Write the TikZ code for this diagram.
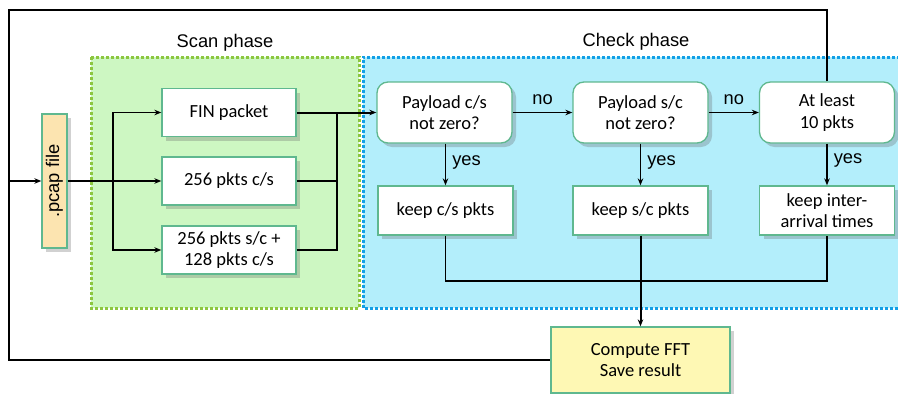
\documentclass[tikz,border=0pt]{standalone}
\usepackage{fontspec}
\setmainfont{Carlito}
\newfontfamily\arial{Liberation Sans}
\usetikzlibrary{arrows.meta,shadows}
\definecolor{scanfill}{HTML}{CDF7C2}
\definecolor{scanline}{HTML}{8CC63F}
\definecolor{checkfill}{HTML}{B3EEFB}
\definecolor{checkline}{HTML}{119FE6}
\definecolor{boxline}{HTML}{5FB88F}
\definecolor{pcapfill}{HTML}{FCE4B0}
\definecolor{fftfill}{HTML}{FEF8B4}
\tikzset{
  bx/.style={draw=boxline, line width=1.3pt, fill=white, align=center,
    font=\fontsize{18.5}{21.5}\selectfont, inner sep=0pt,
    drop shadow={shadow xshift=4pt, shadow yshift=-4pt, opacity=0.3, fill=black!60}},
  sqbox/.style={bx, minimum width=134pt, minimum height=48pt},
  rdbox/.style={bx, rounded corners=11pt, minimum width=135pt, minimum height=61pt},
  kbox/.style={bx, minimum width=135pt, minimum height=49pt},
  lbl/.style={font=\arial\fontsize{18.3}{21}\selectfont, inner sep=0pt},
  conn/.style={line width=1.6pt},
  arr/.style={conn, -{Stealth[length=7pt,width=5.5pt]}},
}
\begin{document}
\begin{tikzpicture}[x=1pt,y=-1pt]
\useasboundingbox (0,0) rectangle (898,394);
% phase areas
\fill[scanfill] (91,57) rectangle (359,308);
\draw[scanline, line width=3pt, dash pattern=on 3pt off 2pt] (91,57) rectangle (359,308);
\fill[checkfill] (363,57) rectangle (898,308);
\draw[checkline, line width=3pt, dash pattern=on 3pt off 2pt] (900,57) -- (363,57) -- (363,308) -- (900,308);
\node[lbl] (scanlbl) at (225,43) {Scan phase};
\node[lbl] (checklbl) at (636,42) {Check phase};
% nodes
\node[bx, fill=pcapfill, minimum width=25pt, minimum height=134pt] (pcap) at (54.5,181) {};
\node[lbl, rotate=90] (pcaptxt) at (pcap.center) {.pcap file};
\node[sqbox] (fin) at (229,112.5) {FIN packet};
\node[sqbox] (cs) at (229,181) {256 pkts c/s};
\node[sqbox] (sc) at (229,250) {256 pkts s/c +\\128 pkts c/s};
\node[rdbox] (p1) at (444.5,112.5) {Payload c/s\\not zero?};
\node[rdbox] (p2) at (640.5,112.5) {Payload s/c\\not zero?};
\node[rdbox] (p3) at (827,112.5) {At least\\10 pkts};
\node[kbox] (k1) at (445.5,210.5) {keep c/s pkts};
\node[kbox] (k2) at (640.5,210.5) {keep s/c pkts};
\node[kbox] (k3) at (827,210.5) {keep inter-\\arrival times};
\node[bx, fill=fftfill, minimum width=179pt, minimum height=66pt] (fft) at (640.5,360) {Compute FFT\\Save result};
% coordinates
\coordinate (tl) at (9,10);
\coordinate (ml) at (9,181);
\coordinate (bl) at (9,360);
\coordinate (js) at (113,181);
\coordinate (jr) at (336.5,112.5);
\coordinate (jb) at (640.5,281);
% outer loop
\draw[conn] (p3.north) |- (tl) -- (bl) -- (fft.west);
\draw[arr] (ml) -- (pcap.west);
% scan branching
\draw[conn, line width=2pt] (pcap.east) -- (js);
\draw[arr] (js) -- (cs.west);
\draw[arr] (js) |- (fin.west);
\draw[arr] (js) |- (sc.west);
\draw[conn, line width=2pt] (fin.east) -- (jr);
\draw[arr, line width=2pt] (jr) -- (p1.west);
\draw[conn] (cs.east) -| (jr);
\draw[conn, line width=2pt] (sc.east) -| (jr);
% check flow
\draw[arr] (p1.east) -- node[lbl, above=7pt] (no1) {no} (p2.west);
\draw[arr] (p2.east) -- node[lbl, above=7pt] (no2) {no} (p3.west);
\draw[arr] (p1.south -| k1.north) -- node[lbl, right=6pt, pos=0.45] (y1) {yes} (k1.north);
\draw[arr] (p2.south) -- node[lbl, right=6pt, pos=0.45] (y2) {yes} (k2.north);
\draw[arr] (p3.south) -- node[lbl, right=6pt, pos=0.4] (y3) {yes} (k3.north);
\draw[conn] (k1.south) |- (jb) -| (k3.south);
\draw[arr, line width=2pt] (k2.south) -- (fft.north);
\end{tikzpicture}
\end{document}
